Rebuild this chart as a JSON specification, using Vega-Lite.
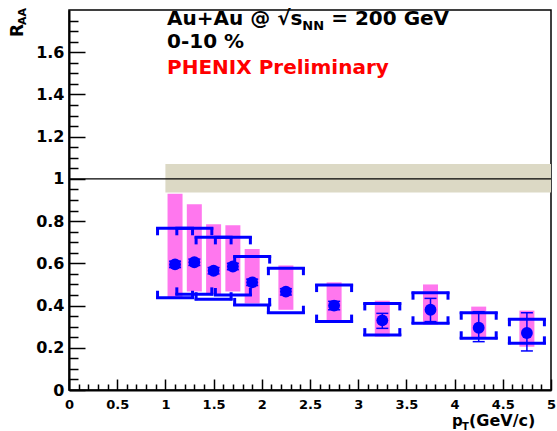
{
  "$schema": "https://vega.github.io/schema/vega-lite/v6.json",
  "width": 482,
  "height": 380,
  "autosize": "none",
  "padding": {"left": 69, "top": 10, "right": 6, "bottom": 41},
  "background": "white",
  "config": {
    "view": {"stroke": "#000", "strokeWidth": 1.5},
    "font": "DejaVu Sans",
    "scale": {"continuousPadding": 0},
    "axis": {"grid": false, "domainColor": "#000", "tickColor": "#000", "labelColor": "#000", "labelFont": "DejaVu Sans", "labelFontWeight": "bold", "labelFlush": false, "labelOverlap": false}
  },
  "datasets": {
    "pts": [
      {"pt": 1.1, "r": 0.595, "slo": 0.58, "shi": 0.61, "plo": 0.44, "phi": 0.93, "blo": 0.437, "bhi": 0.766},
      {"pt": 1.3, "r": 0.605, "slo": 0.59, "shi": 0.62, "plo": 0.466, "phi": 0.88, "blo": 0.453, "bhi": 0.766},
      {"pt": 1.5, "r": 0.565, "slo": 0.55, "shi": 0.58, "plo": 0.455, "phi": 0.785, "blo": 0.43, "bhi": 0.723},
      {"pt": 1.7, "r": 0.585, "slo": 0.57, "shi": 0.6, "plo": 0.466, "phi": 0.78, "blo": 0.45, "bhi": 0.723},
      {"pt": 1.9, "r": 0.51, "slo": 0.495, "shi": 0.525, "plo": 0.41, "phi": 0.668, "blo": 0.403, "bhi": 0.632},
      {"pt": 2.25, "r": 0.466, "slo": 0.45, "shi": 0.48, "plo": 0.38, "phi": 0.59, "blo": 0.366, "bhi": 0.577},
      {"pt": 2.75, "r": 0.4, "slo": 0.38, "shi": 0.42, "plo": 0.33, "phi": 0.51, "blo": 0.324, "bhi": 0.497},
      {"pt": 3.25, "r": 0.33, "slo": 0.292, "shi": 0.363, "plo": 0.253, "phi": 0.423, "blo": 0.26, "bhi": 0.41},
      {"pt": 3.75, "r": 0.38, "slo": 0.324, "shi": 0.434, "plo": 0.31, "phi": 0.5, "blo": 0.316, "bhi": 0.461},
      {"pt": 4.25, "r": 0.295, "slo": 0.229, "shi": 0.371, "plo": 0.245, "phi": 0.395, "blo": 0.245, "bhi": 0.366},
      {"pt": 4.75, "r": 0.27, "slo": 0.185, "shi": 0.366, "plo": 0.205, "phi": 0.376, "blo": 0.221, "bhi": 0.335}
    ],
    "band": [{"x1": 1, "x2": 5, "lo": 0.935, "hi": 1.07, "ref": 1}]
  },
  "layer": [
    {
      "layer": [
        {
          "data": {"name": "band"},
          "mark": {"type": "rect", "fill": "#dcd9c5"},
          "encoding": {
            "x": {"field": "x1", "type": "quantitative", "scale": {"domain": [0, 5], "nice": false, "zero": false, "padding": 0},
              "axis": {"title": null, "values": [0, 0.5, 1, 1.5, 2, 2.5, 3, 3.5, 4, 4.5, 5], "format": "~g", "tickSize": -11, "tickWidth": 1.5, "labelPadding": 19, "labelFontSize": 13, "domainWidth": 2}},
            "x2": {"field": "x2"},
            "y": {"field": "lo", "type": "quantitative", "scale": {"domain": [0, 1.8], "nice": false, "zero": false, "padding": 0},
              "axis": {"title": null, "values": [0, 0.2, 0.4, 0.6, 0.8, 1, 1.2, 1.4, 1.6], "format": "~g", "tickSize": -16, "tickWidth": 1.5, "labelPadding": 21, "labelFontSize": 16, "domainWidth": 2}},
            "y2": {"field": "hi"}
          }
        },
        {
          "data": {"name": "band"},
          "mark": {"type": "rule", "color": "#000", "strokeWidth": 1.2},
          "encoding": {
            "x": {"datum": 0, "type": "quantitative"},
            "x2": {"datum": 5},
            "y": {"field": "ref", "type": "quantitative"}
          }
        },
        {
          "data": {"name": "pts"},
          "mark": {"type": "bar", "width": 15, "fill": "#ff77ee"},
          "encoding": {
            "x": {"field": "pt", "type": "quantitative"},
            "y": {"field": "plo", "type": "quantitative"},
            "y2": {"field": "phi"}
          }
        },
        {
          "data": {"name": "pts"},
          "mark": {"type": "tick", "orient": "horizontal", "size": 38, "thickness": 3, "color": "#0000ff", "opacity": 1},
          "encoding": {
            "x": {"field": "pt", "type": "quantitative"},
            "y": {"field": "bhi", "type": "quantitative"}
          }
        },
        {
          "data": {"name": "pts"},
          "mark": {"type": "tick", "orient": "horizontal", "size": 38, "thickness": 3, "color": "#0000ff", "opacity": 1},
          "encoding": {
            "x": {"field": "pt", "type": "quantitative"},
            "y": {"field": "blo", "type": "quantitative"}
          }
        },
        {
          "data": {"name": "pts"},
          "mark": {"type": "tick", "orient": "vertical", "size": 8, "thickness": 3, "color": "#0000ff", "opacity": 1, "xOffset": -17.5, "yOffset": 3},
          "encoding": {
            "x": {"field": "pt", "type": "quantitative"},
            "y": {"field": "bhi", "type": "quantitative"}
          }
        },
        {
          "data": {"name": "pts"},
          "mark": {"type": "tick", "orient": "vertical", "size": 8, "thickness": 3, "color": "#0000ff", "opacity": 1, "xOffset": 17.5, "yOffset": 3},
          "encoding": {
            "x": {"field": "pt", "type": "quantitative"},
            "y": {"field": "bhi", "type": "quantitative"}
          }
        },
        {
          "data": {"name": "pts"},
          "mark": {"type": "tick", "orient": "vertical", "size": 8, "thickness": 3, "color": "#0000ff", "opacity": 1, "xOffset": -17.5, "yOffset": -3},
          "encoding": {
            "x": {"field": "pt", "type": "quantitative"},
            "y": {"field": "blo", "type": "quantitative"}
          }
        },
        {
          "data": {"name": "pts"},
          "mark": {"type": "tick", "orient": "vertical", "size": 8, "thickness": 3, "color": "#0000ff", "opacity": 1, "xOffset": 17.5, "yOffset": -3},
          "encoding": {
            "x": {"field": "pt", "type": "quantitative"},
            "y": {"field": "blo", "type": "quantitative"}
          }
        },
        {
          "data": {"name": "pts"},
          "mark": {"type": "rule", "color": "#0000ff", "strokeWidth": 1.5},
          "encoding": {
            "x": {"field": "pt", "type": "quantitative"},
            "y": {"field": "slo", "type": "quantitative"},
            "y2": {"field": "shi"}
          }
        },
        {
          "data": {"name": "pts"},
          "mark": {"type": "tick", "orient": "horizontal", "size": 12, "thickness": 1.5, "color": "#0000ff", "opacity": 1},
          "encoding": {
            "x": {"field": "pt", "type": "quantitative"},
            "y": {"field": "slo", "type": "quantitative"}
          }
        },
        {
          "data": {"name": "pts"},
          "mark": {"type": "tick", "orient": "horizontal", "size": 12, "thickness": 1.5, "color": "#0000ff", "opacity": 1},
          "encoding": {
            "x": {"field": "pt", "type": "quantitative"},
            "y": {"field": "shi", "type": "quantitative"}
          }
        },
        {
          "data": {"name": "pts"},
          "mark": {"type": "point", "shape": "circle", "filled": true, "size": 140, "color": "#0000ff", "opacity": 1},
          "encoding": {
            "x": {"field": "pt", "type": "quantitative"},
            "y": {"field": "r", "type": "quantitative"}
          }
        },
        {
          "data": {"name": "band"},
          "mark": {"type": "text", "text": "Au+Au @ √s", "align": "left", "baseline": "alphabetic", "fontSize": 20, "fontWeight": "bold", "font": "DejaVu Sans", "color": "#000"},
          "encoding": {"x": {"datum": 1.017, "type": "quantitative"}, "y": {"datum": 1.729, "type": "quantitative"}}
        },
        {
          "data": {"name": "band"},
          "mark": {"type": "text", "text": "NN", "align": "left", "baseline": "alphabetic", "fontSize": 13, "fontWeight": "bold", "font": "DejaVu Sans", "color": "#000"},
          "encoding": {"x": {"datum": 2.42, "type": "quantitative"}, "y": {"datum": 1.705, "type": "quantitative"}}
        },
        {
          "data": {"name": "band"},
          "mark": {"type": "text", "text": "= 200 GeV", "align": "left", "baseline": "alphabetic", "fontSize": 20, "fontWeight": "bold", "font": "DejaVu Sans", "color": "#000"},
          "encoding": {"x": {"datum": 2.72, "type": "quantitative"}, "y": {"datum": 1.729, "type": "quantitative"}}
        },
        {
          "data": {"name": "band"},
          "mark": {"type": "text", "text": "0-10 %", "align": "left", "baseline": "alphabetic", "fontSize": 20, "fontWeight": "bold", "font": "DejaVu Sans", "color": "#000"},
          "encoding": {"x": {"datum": 1.017, "type": "quantitative"}, "y": {"datum": 1.62, "type": "quantitative"}}
        },
        {
          "data": {"name": "band"},
          "mark": {"type": "text", "text": "PHENIX Preliminary", "align": "left", "baseline": "alphabetic", "fontSize": 20, "fontWeight": "bold", "font": "DejaVu Sans", "color": "#ff0000"},
          "encoding": {"x": {"datum": 1.017, "type": "quantitative"}, "y": {"datum": 1.497, "type": "quantitative"}}
        },
        {
          "data": {"name": "band"},
          "mark": {"type": "text", "text": "R", "angle": 270, "align": "left", "baseline": "alphabetic", "fontSize": 17, "fontWeight": "bold", "font": "DejaVu Sans", "color": "#000"},
          "encoding": {"x": {"datum": -0.477, "type": "quantitative"}, "y": {"datum": 1.672, "type": "quantitative"}}
        },
        {
          "data": {"name": "band"},
          "mark": {"type": "text", "text": "AA", "angle": 270, "align": "left", "baseline": "alphabetic", "fontSize": 11, "fontWeight": "bold", "font": "DejaVu Sans", "color": "#000"},
          "encoding": {"x": {"datum": -0.451, "type": "quantitative"}, "y": {"datum": 1.729, "type": "quantitative"}}
        },
        {
          "data": {"name": "band"},
          "mark": {"type": "text", "text": "p", "align": "left", "baseline": "alphabetic", "fontSize": 15, "fontWeight": "bold", "font": "DejaVu Sans", "color": "#000"},
          "encoding": {"x": {"datum": 3.973, "type": "quantitative"}, "y": {"datum": -0.1705, "type": "quantitative"}}
        },
        {
          "data": {"name": "band"},
          "mark": {"type": "text", "text": "T", "align": "left", "baseline": "alphabetic", "fontSize": 10, "fontWeight": "bold", "font": "DejaVu Sans", "color": "#000"},
          "encoding": {"x": {"datum": 4.077, "type": "quantitative"}, "y": {"datum": -0.19, "type": "quantitative"}}
        },
        {
          "data": {"name": "band"},
          "mark": {"type": "text", "text": "(GeV/c)", "align": "left", "baseline": "alphabetic", "fontSize": 16, "fontWeight": "bold", "font": "DejaVu Sans", "color": "#000"},
          "encoding": {"x": {"datum": 4.15, "type": "quantitative"}, "y": {"datum": -0.1705, "type": "quantitative"}}
        }
      ]
    },
    {
      "data": {"name": "pts"},
      "mark": {"type": "point", "opacity": 0},
      "encoding": {
        "x": {"field": "pt", "type": "quantitative", "scale": {"domain": [0, 5], "nice": false, "zero": false, "padding": 0},
          "axis": {"orient": "bottom", "title": null, "values": [0.1, 0.2, 0.3, 0.4, 0.6, 0.7, 0.8, 0.9, 1.1, 1.2, 1.3, 1.4, 1.6, 1.7, 1.8, 1.9, 2.1, 2.2, 2.3, 2.4, 2.6, 2.7, 2.8, 2.9, 3.1, 3.2, 3.3, 3.4, 3.6, 3.7, 3.8, 3.9, 4.1, 4.2, 4.3, 4.4, 4.6, 4.7, 4.8, 4.9], "tickSize": -6, "tickWidth": 1.5, "labels": false, "domain": false}},
        "y": {"field": "r", "type": "quantitative", "scale": {"domain": [0, 1.8], "nice": false, "zero": false, "padding": 0},
          "axis": {"orient": "left", "title": null, "values": [0.05, 0.1, 0.15, 0.25, 0.3, 0.35, 0.45, 0.5, 0.55, 0.65, 0.7, 0.75, 0.85, 0.9, 0.95, 1.05, 1.1, 1.15, 1.25, 1.3, 1.35, 1.45, 1.5, 1.55, 1.65, 1.7, 1.75], "tickSize": -9, "tickWidth": 1.5, "labels": false, "domain": false}}
      }
    }
  ],
  "resolve": {"axis": {"x": "independent", "y": "independent"}}
}
